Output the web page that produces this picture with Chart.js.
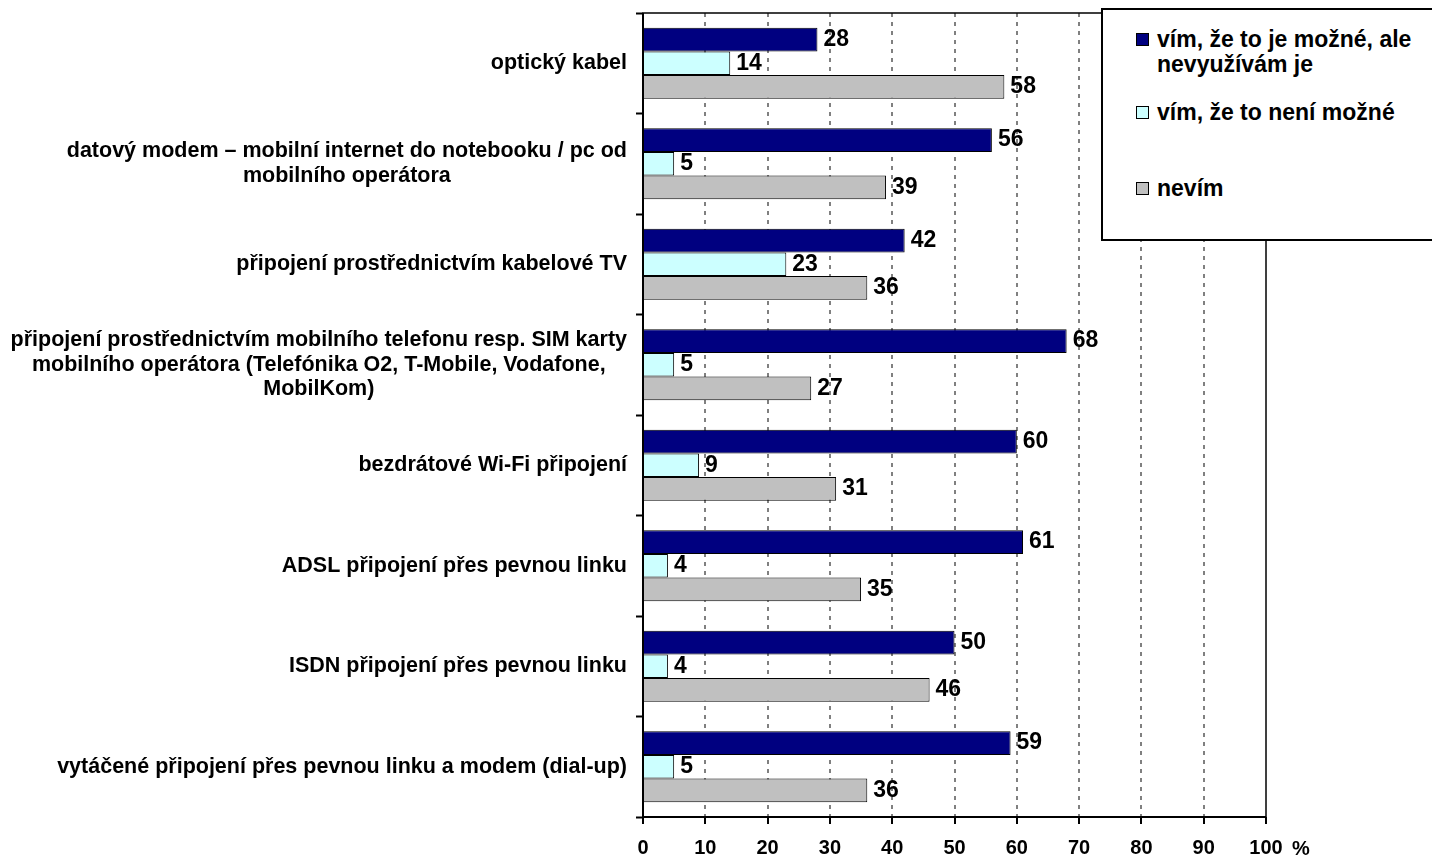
<!DOCTYPE html>
<html>
<head>
<meta charset="utf-8">
<script src="https://cdn.jsdelivr.net/npm/chart.js@4"></script>
<style>
  body { margin: 0; background: #fff; overflow: hidden; }
  #wrap { position: relative; width: 1432px; height: 856px; }
  #legend {
    position: absolute; left: 1101px; top: 8px; width: 340px; height: 229px;
    border: 2px solid #000; background: #fff;
    font: bold 23px "Liberation Sans", Arial, sans-serif; color: #000;
  }
  .item { position: absolute; left: 33px; line-height: 25px; padding-left: 21px; white-space: nowrap; }
  .box { position: absolute; left: 0; top: 6px; width: 11px; height: 11px; border: 1px solid #000; }
</style>
</head>
<body>
<div id="wrap">
  <canvas id="myChart" width="1432" height="856"></canvas>
  <div id="legend">
    <div class="item" style="top:17px"><span class="box" style="background:#000080"></span>vím, že to je možné, ale<br>nevyužívám je</div>
    <div class="item" style="top:90px"><span class="box" style="background:#CCFFFF"></span>vím, že to není možné</div>
    <div class="item" style="top:166px"><span class="box" style="background:#C0C0C0"></span>nevím</div>
  </div>
</div>
<script>
const categories = [
  ["optický kabel"],
  ["datový modem – mobilní internet do notebooku / pc od", "mobilního operátora"],
  ["připojení prostřednictvím kabelové TV"],
  ["připojení prostřednictvím mobilního telefonu resp. SIM karty", "mobilního operátora (Telefónika O2, T-Mobile, Vodafone,", "MobilKom)"],
  ["bezdrátové Wi-Fi připojení"],
  ["ADSL připojení přes pevnou linku"],
  ["ISDN připojení přes pevnou linku"],
  ["vytáčené připojení přes pevnou linku a modem (dial-up)"],
];
const seriesNames = ["vím, že to je možné, ale nevyužívám je", "vím, že to není možné", "nevím"];
const possibleNotUsed = [28, 56, 42, 68, 60, 61, 50, 59];
const notPossible = [14, 5, 23, 5, 9, 4, 4, 5];
const dontKnow = [58, 39, 36, 27, 31, 35, 46, 36];
const xTicks = [0, 10, 20, 30, 40, 50, 60, 70, 80, 90, 100];

const FONT = '"Liberation Sans", Arial, sans-serif';

// popisky kategorií (blok zarovnaný vpravo k ose, řádky na střed)
const categoryLabels = {
  id: "categoryLabels",
  afterDraw(chart) {
    const ctx = chart.ctx;
    const yScale = chart.scales.y;
    ctx.save();
    ctx.font = "bold 21.5px " + FONT;
    ctx.fillStyle = "#000";
    ctx.textAlign = "center";
    ctx.textBaseline = "middle";
    categories.forEach((lines, i) => {
      const yc = yScale.getPixelForValue(i);
      const maxW = Math.max(...lines.map((l) => ctx.measureText(l).width));
      const cx = 627 - maxW / 2;
      lines.forEach((line, j) => {
        ctx.fillText(line, cx, yc + (j - (lines.length - 1) / 2) * 24.5);
      });
    });
    ctx.restore();
  },
};

// hodnoty za koncem sloupců + rámeček grafu
const valueLabels = {
  id: "valueLabels",
  afterDatasetsDraw(chart) {
    const ctx = chart.ctx;
    const area = chart.chartArea;
    ctx.save();
    ctx.strokeStyle = "#000";
    ctx.lineWidth = 1.5;
    ctx.strokeRect(area.left, area.top, area.right - area.left, area.bottom - area.top);
    ctx.lineWidth = 2;
    ctx.beginPath();
    ctx.moveTo(area.left, area.top);
    ctx.lineTo(area.left, area.bottom);
    ctx.lineTo(area.right, area.bottom);
    ctx.stroke();

    ctx.font = "bold 23px " + FONT;
    ctx.fillStyle = "#000";
    ctx.textAlign = "left";
    ctx.textBaseline = "middle";
    chart.data.datasets.forEach((ds, di) => {
      chart.getDatasetMeta(di).data.forEach((bar, i) => {
        ctx.fillText(ds.data[i], bar.x + 6, bar.y);
      });
    });

    ctx.font = "bold 20px " + FONT;
    ctx.fillText("%", 1292, 849);
    ctx.restore();
  },
};

const data = {
  labels: categories.map((c) => c.join(" ")),
  datasets: [
    { label: seriesNames[0], data: possibleNotUsed, backgroundColor: "#000080" },
    { label: seriesNames[1], data: notPossible, backgroundColor: "#CCFFFF" },
    { label: seriesNames[2], data: dontKnow, backgroundColor: "#C0C0C0" },
  ],
};

const options = {
  indexAxis: "y",
  responsive: false,
  animation: false,
  devicePixelRatio: 1,
  layout: { padding: { top: 13, right: 166, left: 0, bottom: 0 } },
  datasets: {
    bar: {
      categoryPercentage: 0.707,
      barPercentage: 1,
      borderWidth: 1,
      borderColor: "#000",
    },
  },
  plugins: { legend: { display: false }, tooltip: { enabled: false } },
  scales: {
    x: {
      min: 0,
      max: 100,
      afterBuildTicks: (scale) => {
        scale.ticks = xTicks.map((v) => ({ value: v }));
      },
      afterFit: (scale) => {
        scale.height = 39;
      },
      border: { display: false, dash: [4, 5] },
      grid: {
        color: (c) => (c.tick && c.tick.value > 0 && c.tick.value < 100 ? "#808080" : "rgba(0,0,0,0)"),
        lineWidth: 2,
        tickColor: "#000",
        tickLength: 7,
        tickWidth: 2,
      },
      ticks: {
        color: "#000",
        font: { family: FONT, size: 20, weight: "bold" },
        padding: 12,
        maxRotation: 0,
      },
    },
    y: {
      afterFit: (scale) => {
        scale.width = 643;
      },
      border: { display: false },
      grid: {
        offset: true,
        drawOnChartArea: false,
        tickColor: "#000",
        tickLength: 7,
        tickWidth: 2,
      },
      ticks: { display: false },
    },
  },
};

new Chart(document.getElementById("myChart").getContext("2d"), {
  type: "bar",
  data: data,
  options: options,
  plugins: [categoryLabels, valueLabels],
});
</script>
</body>
</html>
